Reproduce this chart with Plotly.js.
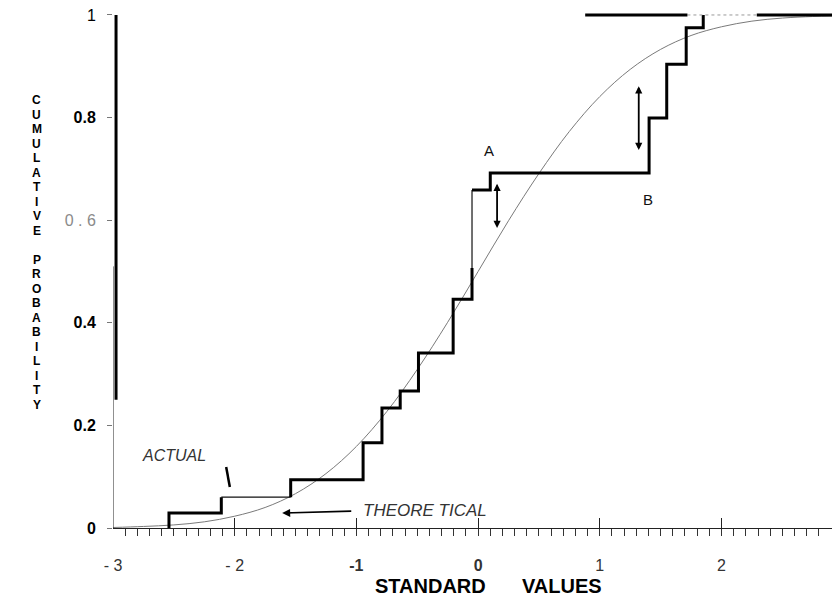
<!DOCTYPE html>
<html>
<head>
<meta charset="utf-8">
<script src="https://cdn.plot.ly/plotly-3.0.1.min.js"></script>
<style>html,body{margin:0;padding:0;background:#fff;}#chart{width:832px;height:598px;}</style>
</head>
<body>
<div id="chart"></div>
<script>
// ---- Data ----
// Empirical (actual) cumulative distribution: x of each jump and level after it
const stepX = [-2.54, -2.11, -1.54, -0.945, -0.79, -0.64, -0.49, -0.205, -0.05, 0.10, 1.405, 1.55, 1.71, 1.85];
const stepY = [0.029, 0.060, 0.094, 0.166, 0.234, 0.267, 0.341, 0.446, 0.659, 0.692, 0.799, 0.904, 0.975, 1.0];
const thickBreakY = 0.507;   // where the heavy stroke on the jump at -0.05 turns thin

// Theoretical cumulative curve
const theoX = [-3, -2.75, -2.5, -2.25, -2, -1.75, -1.5, -1.25, -1, -0.75, -0.5, -0.25, 0, 0.25, 0.5, 0.75, 1, 1.25, 1.5, 1.75, 2, 2.25, 2.5, 2.75, 2.91];
const theoY = [0.001, 0.003, 0.006, 0.012, 0.023, 0.040, 0.067, 0.106, 0.159, 0.227, 0.309, 0.401, 0.5, 0.599, 0.691, 0.773, 0.841, 0.894, 0.933, 0.960, 0.977, 0.988, 0.994, 0.997, 0.998];

// Heavy line drawn at probability 1 (with a faint dotted gap)
const topX = [0.88, 1.72, null, 2.29, 2.91];
const topY = [1, 1, null, 1, 1];
const topGapX = [1.72, 2.29];
const topGapY = [1, 1];

// Axis ticks
const xTickVals = [-3, -2, -1, 0, 1, 2];
const xTickText = ['- 3', '- 2', '<b>-1</b>', '<b>0</b>', '1', '2'];
const yTickVals = [0, 0.2, 0.4, 0.6, 0.8, 1];
const yTickText = ['<b>0</b>', '<b>0.2</b>', '<b>0.4</b>', '<span style="color:#8a8a8a">0 . 6</span>', '<b>0.8</b>', '1'];

// K-S gaps marked with double arrows: [x, yTop, yBottom]
const gapA = [0.156, 0.674, 0.585];
const gapB = [1.32, 0.864, 0.737];

// Titles
const xTitleWords = ['STANDARD', 'VALUES'];
const yTitle = 'CUMULATIVE PROBABILITY';

// ---- Build step path vertices ----
const V = [[stepX[0], 0]];
for (let i = 0; i < stepX.length; i++) {
  if (i > 0) V.push([stepX[i], stepY[i - 1]]);
  V.push([stepX[i], stepY[i]]);
}
function toXY(pts){ return {x: pts.map(p => p[0]), y: pts.map(p => p[1])}; }
function join(parts){ const x=[],y=[]; parts.forEach((p,k)=>{ if(k) {x.push(null);y.push(null);} x.push(...p.x); y.push(...p.y); }); return {x,y}; }

const thickA = toXY(V.slice(0, 4));
const thinA = toXY(V.slice(3, 5));
const thickB = toXY(V.slice(4, 17).concat([[stepX[8], thickBreakY]]));
const thinB = toXY([[stepX[8], thickBreakY], V[17]]);
const thickC = toXY(V.slice(17));

const thick = join([thickA, thickB, thickC]);
const thin = join([thinA, thinB]);

const traces = [
  {x: theoX, y: theoY, type: 'scatter', mode: 'lines', line: {color: '#7a7a7a', width: 1, shape: 'spline'}, hoverinfo: 'skip', name: 'Theoretical'},
  {x: thin.x, y: thin.y, type: 'scatter', mode: 'lines', line: {color: '#111', width: 1.2}, hoverinfo: 'skip', name: 'Actual (thin)'},
  {x: thick.x, y: thick.y, type: 'scatter', mode: 'lines', line: {color: '#000', width: 3}, hoverinfo: 'skip', name: 'Actual'},
  {x: topGapX, y: topGapY, type: 'scatter', mode: 'lines', line: {color: '#999', width: 1, dash: 'dot'}, hoverinfo: 'skip'},
  {x: topX, y: topY, type: 'scatter', mode: 'lines', line: {color: '#000', width: 3}, hoverinfo: 'skip'}
];

function dblArrow(g){
  return {x: g[0], y: g[2], ax: g[0], ay: g[1], xref: 'x', yref: 'y', axref: 'x', ayref: 'y',
    showarrow: true, arrowhead: 2, startarrowhead: 2, arrowside: 'end+start', arrowsize: 0.8, startarrowsize: 0.8, arrowwidth: 1.8, arrowcolor: '#000', text: ''};
}

// plot area geometry used to place the stacked y-title letters
const plotTop = 12, plotBottom = 528, plotH = plotBottom - plotTop;
const letterTop = 100, letterBottom = 405;
const yLetterAnns = yTitle.split('').map((c, i, arr) => {
  const py = letterTop + i * (letterBottom - letterTop) / (arr.length - 1);
  return {text: '<b>' + c + '</b>', x: -0.106, y: (plotBottom - py) / plotH, xref: 'paper', yref: 'paper',
    xanchor: 'center', yanchor: 'middle', showarrow: false, font: {size: 12, color: '#000'}};
}).filter(a => a.text !== '<b> </b>');

const layout = {
  width: 832, height: 598,
  margin: {l: 113, r: 0, t: plotTop, b: 598 - plotBottom},
  paper_bgcolor: '#fff', plot_bgcolor: '#fff',
  showlegend: false,
  font: {family: 'Liberation Sans, Arial, sans-serif', color: '#000'},
  xaxis: {
    range: [-3, 2.908], showgrid: false, zeroline: false,
    showline: true, linecolor: '#222', linewidth: 1,
    tickmode: 'array', tickvals: xTickVals, ticktext: xTickText,
    ticks: 'inside', ticklen: 10, tickwidth: 1, tickcolor: '#222',
    minor: {dtick: 0.1, tick0: 0, ticks: 'outside', ticklen: 7, tickwidth: 1, tickcolor: '#333', showgrid: false},
    tickfont: {size: 16, color: '#333'}, ticklabelstandoff: 23
  },
  yaxis: {
    range: [0, 1.0058], showgrid: false, zeroline: false, showline: false,
    tickmode: 'array', tickvals: yTickVals, ticktext: yTickText,
    ticks: 'outside', ticklen: 5, tickwidth: 1, tickcolor: '#777',
    tickfont: {size: 16, color: '#000'}, ticklabelstandoff: 8
  },
  shapes: [
    {type: 'line', xref: 'x', yref: 'y', x0: -3, x1: -3, y0: 0, y1: 0.51, line: {color: '#222', width: 1}},
    {type: 'line', xref: 'x', yref: 'y', x0: -2.975, x1: -2.975, y0: 0.25, y1: 1.0, line: {color: '#000', width: 3}},
    {type: 'line', xref: 'x', yref: 'y', x0: -2.07, x1: -2.04, y0: 0.119, y1: 0.080, line: {color: '#000', width: 2.5}}
  ],
  annotations: [
    {text: 'ACTUAL', x: -2.50, y: 0.142, xref: 'x', yref: 'y', showarrow: false, font: {size: 16, style: 'italic', color: '#333'}},
    {text: 'THEORE TICAL', x: -0.436, y: 0.035, xref: 'x', yref: 'y', showarrow: false, font: {size: 17, style: 'italic', color: '#333'}},
    {text: '', x: -1.61, y: 0.029, ax: -1.03, ay: 0.033, xref: 'x', yref: 'y', axref: 'x', ayref: 'y', showarrow: true, arrowhead: 2, arrowsize: 1, arrowwidth: 1.6, arrowcolor: '#000'},
    {text: 'A', x: 0.09, y: 0.735, xref: 'x', yref: 'y', showarrow: false, font: {size: 15, color: '#111'}},
    {text: 'B', x: 1.40, y: 0.641, xref: 'x', yref: 'y', showarrow: false, font: {size: 15, color: '#111'}},
    dblArrow(gapA), dblArrow(gapB),
    {text: '<b>' + xTitleWords[0] + '</b>', x: (430 - 113) / 719, y: -0.112, xref: 'paper', yref: 'paper', xanchor: 'center', yanchor: 'middle', showarrow: false, font: {size: 20, color: '#000'}},
    {text: '<b>' + xTitleWords[1] + '</b>', x: (562 - 113) / 719, y: -0.112, xref: 'paper', yref: 'paper', xanchor: 'center', yanchor: 'middle', showarrow: false, font: {size: 20, color: '#000'}}
  ].concat(yLetterAnns)
};

Plotly.newPlot('chart', traces, layout, {staticPlot: true, displayModeBar: false});
</script>
</body>
</html>
